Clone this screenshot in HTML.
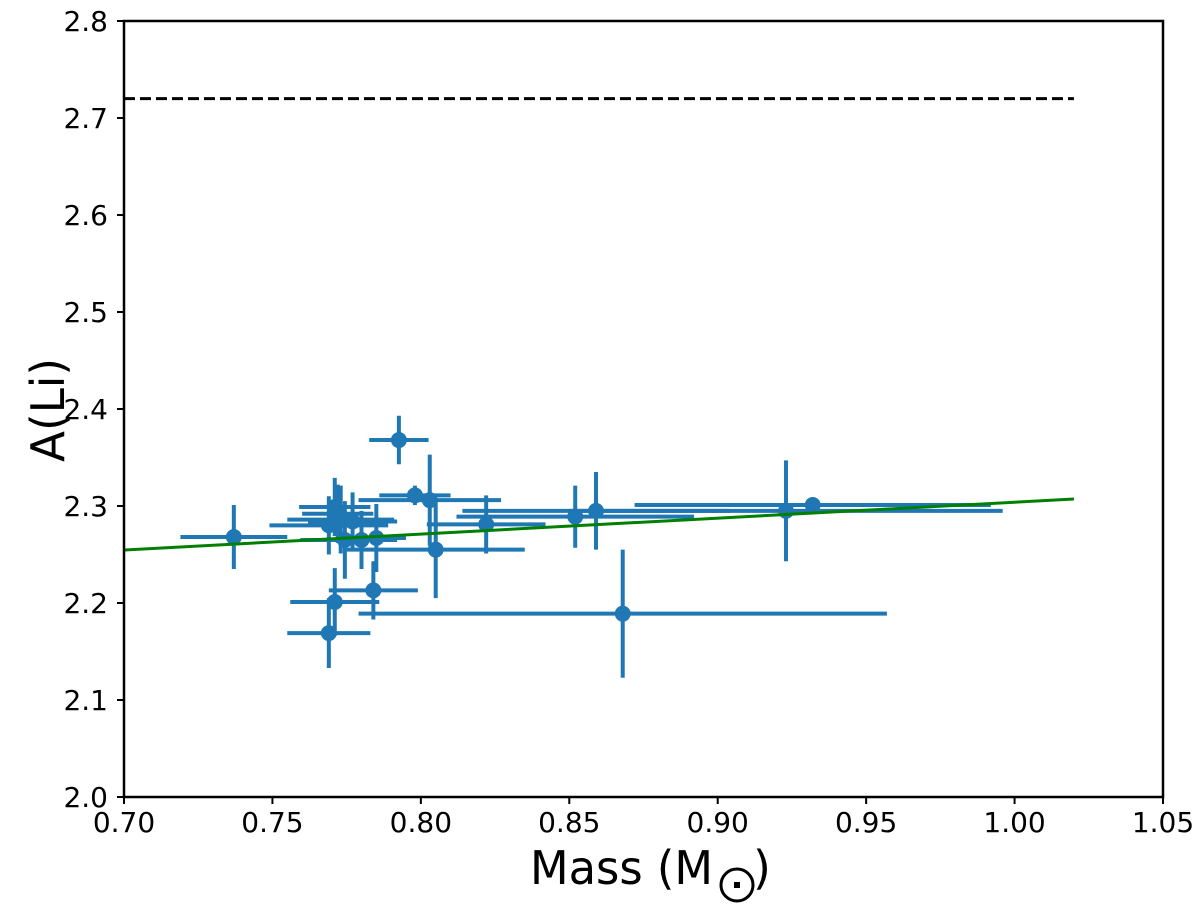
<!DOCTYPE html>
<html><head><meta charset="utf-8"><style>
body{margin:0;background:#fff;}
svg text{font-family:"DejaVu Sans","Liberation Sans",sans-serif;fill:#000;}
</style></head><body>
<svg id="chart" width="1200" height="909" xmlns="http://www.w3.org/2000/svg">
<g id="marks"></g>
<g id="axes"></g>
</svg>
<script>
const massVals=[0.737,0.7926,0.798,0.803,0.822,0.852,0.859,0.868,0.923,0.932,0.805,0.785,0.780,0.7744,0.769,0.771,0.773,0.777,0.769,0.771,0.784,0.772];
const aliVals=[2.268,2.368,2.311,2.306,2.281,2.289,2.295,2.189,2.295,2.301,2.255,2.267,2.265,2.265,2.280,2.299,2.286,2.284,2.169,2.201,2.213,2.292];
const massErr=[0.018,0.010,0.012,0.024,0.020,0.040,0.045,0.089,0.073,0.060,0.030,0.010,0.012,0.015,0.020,0.012,0.018,0.015,0.014,0.015,0.015,0.012];
const aliErr=[0.033,0.025,0.010,0.047,0.030,0.032,0.040,0.066,0.052,0.005,0.050,0.035,0.030,0.040,0.030,0.030,0.035,0.030,0.036,0.035,0.030,0.030];
const fitX=[0.70,1.02];
const fitY=[2.2546,2.3072];
const refLineY=2.72;
const xTicks=["0.70","0.75","0.80","0.85","0.90","0.95","1.00","1.05"];
const yTicks=["2.0","2.1","2.2","2.3","2.4","2.5","2.6","2.7","2.8"];
const L=124,R=1163,T=21,B=797;
const X=v=>L+(v-0.70)/0.35*(R-L);
const Y=v=>B-(v-2.0)/0.8*(B-T);
const NS="http://www.w3.org/2000/svg";
function mk(tag,attrs,parent){const e=document.createElementNS(NS,tag);for(const k in attrs)e.setAttribute(k,attrs[k]);parent.appendChild(e);return e;}
const marks=document.getElementById('marks'),axes=document.getElementById('axes');
const blue="#1f77b4";
let d=mk('line',{x1:X(0.70),x2:X(1.02),y1:Y(refLineY),y2:Y(refLineY),stroke:"#000","stroke-width":3,"stroke-dasharray":"11,5"},marks);


for(let i=0;i<massVals.length;i++){
 const g=mk('g',{},marks);
 
 
 mk('line',{x1:X(massVals[i]-massErr[i]),x2:X(massVals[i]+massErr[i]),y1:Y(aliVals[i]),y2:Y(aliVals[i]),stroke:blue,"stroke-width":4},g);
 mk('line',{x1:X(massVals[i]),x2:X(massVals[i]),y1:Y(aliVals[i]-aliErr[i]),y2:Y(aliVals[i]+aliErr[i]),stroke:blue,"stroke-width":4},g);
 mk('circle',{cx:X(massVals[i]),cy:Y(aliVals[i]),r:8,fill:blue},g);
}
let f=mk('line',{x1:X(fitX[0]),x2:X(fitX[1]),y1:Y(fitY[0]),y2:Y(fitY[1]),stroke:"#008000","stroke-width":3},marks);


let fr=mk('rect',{x:L,y:T,width:R-L,height:B-T,fill:"none",stroke:"#000","stroke-width":2.5},axes);


xTicks.forEach(t=>{const v=parseFloat(t);
 mk('line',{x1:X(v),x2:X(v),y1:B,y2:B+7,stroke:"#000","stroke-width":2},axes);
 const tx=mk('text',{x:X(v),y:B+35,"font-size":28,"text-anchor":"middle"},axes);tx.textContent=t;
 
 
});
yTicks.forEach(t=>{const v=parseFloat(t);
 mk('line',{x1:L-7,x2:L,y1:Y(v),y2:Y(v),stroke:"#000","stroke-width":2},axes);
 const tx=mk('text',{x:L-16,y:Y(v)+10,"font-size":28,"text-anchor":"end"},axes);tx.textContent=t;
 
 
});
</script>
<svg style="position:absolute;left:0;top:0" width="1200" height="909" xmlns="http://www.w3.org/2000/svg">
<text x="530" y="884" font-size="46" textLength="183" lengthAdjust="spacingAndGlyphs" style="font-family:'DejaVu Sans',sans-serif">Mass (M</text>
<circle cx="737" cy="885" r="16" fill="none" stroke="#000" stroke-width="3"/>
<rect x="734" y="882" width="6" height="6" fill="#000"/>
<text x="753" y="884" font-size="46" style="font-family:'DejaVu Sans',sans-serif">)</text>
<text transform="translate(64,410) rotate(-90)" font-size="46" text-anchor="middle" textLength="104" lengthAdjust="spacingAndGlyphs" style="font-family:'DejaVu Sans',sans-serif">A(Li)</text>
</svg>
</body></html>
